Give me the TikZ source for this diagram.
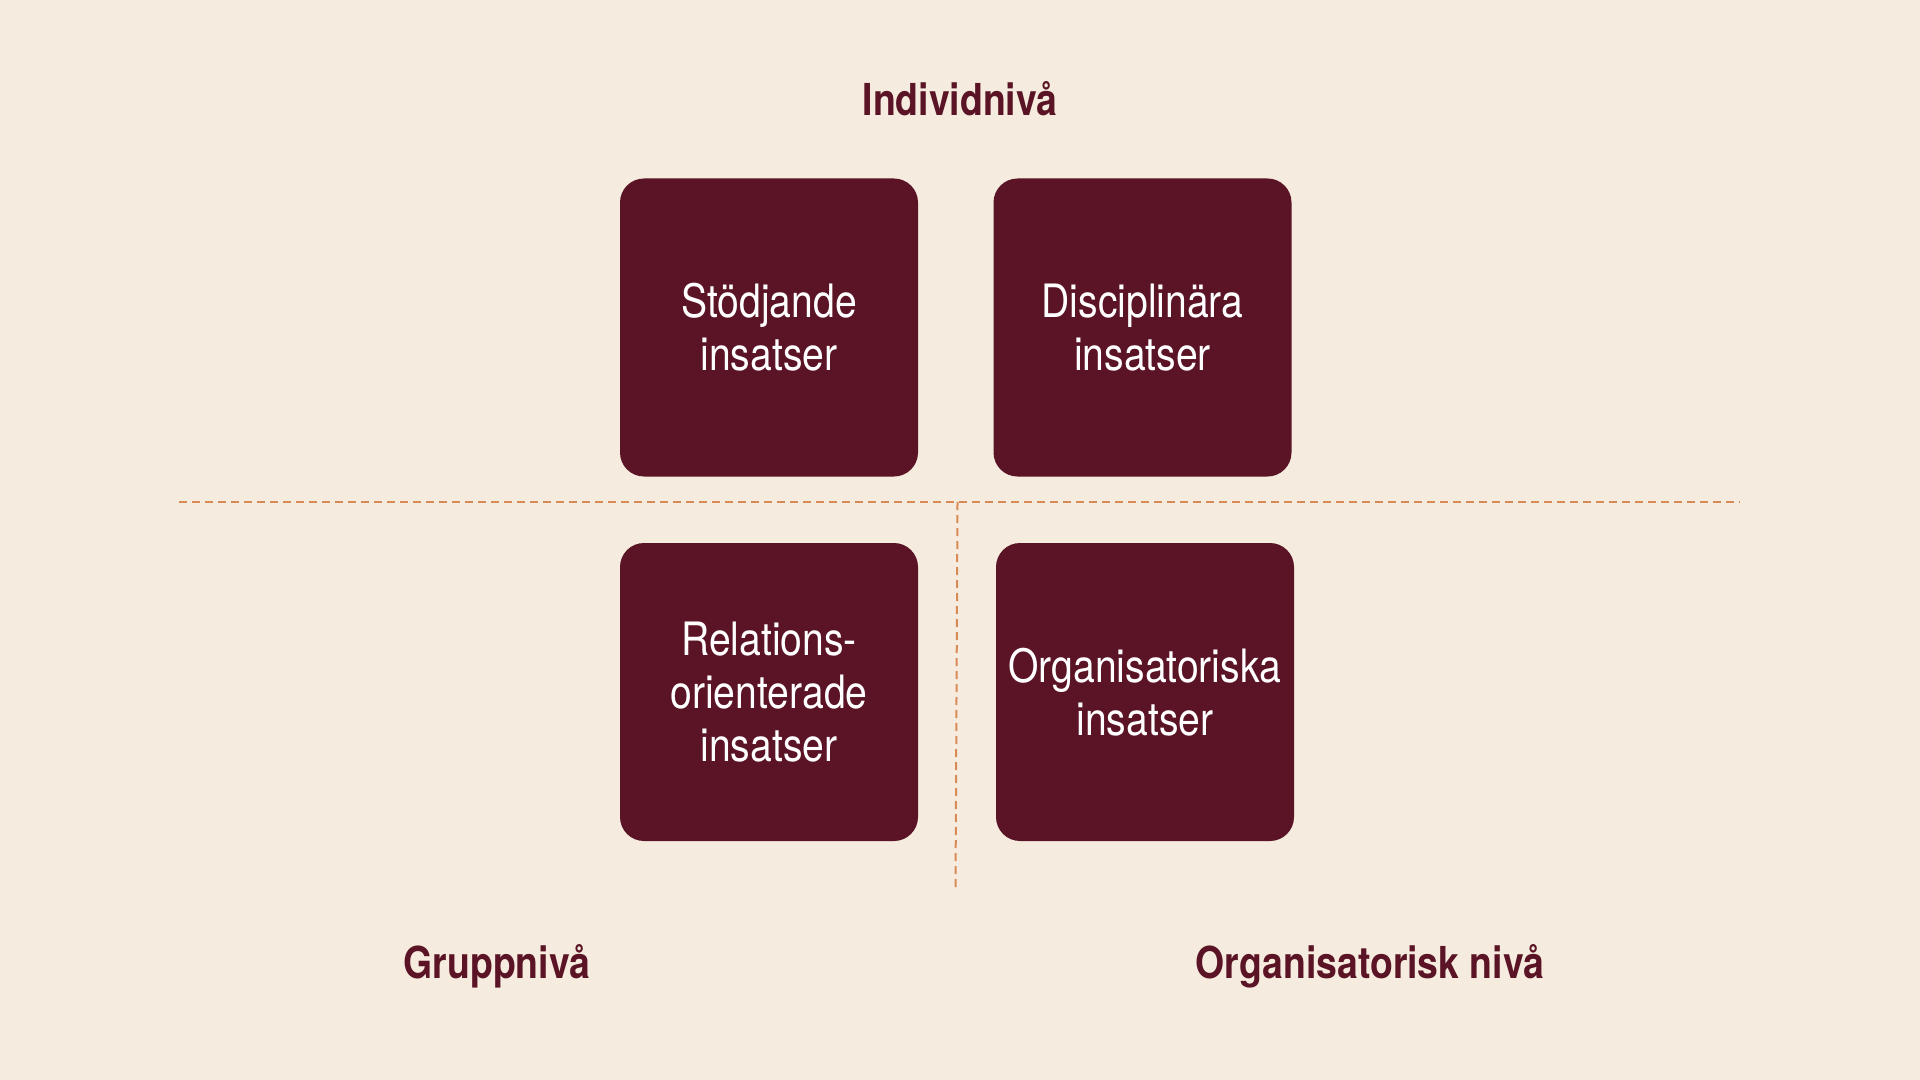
\documentclass[tikz,border=0pt]{standalone}
\usepackage{fontspec}
\setmainfont{TeX Gyre Heros}[FakeStretch=0.85]
\usetikzlibrary{positioning}
\definecolor{cream}{HTML}{F5ECDF}
\definecolor{wine}{HTML}{5A1425}
\definecolor{ochre}{HTML}{D98B55}

\begin{document}
\begin{tikzpicture}[x=0.5pt,y=-0.5pt,node distance=186.75pt,on grid,
  box/.style={fill=wine,text=white,rounded corners=12pt,minimum width=149pt,minimum height=149pt,
    align=center,inner sep=0pt,font=\fontsize{23}{26.5}\selectfont},
  level/.style={text=wine,anchor=base,font=\fontsize{22}{26}\selectfont\bfseries},
  divider/.style={ochre,line width=1pt,dash pattern=on 4pt off 2.5pt}]
  \fill[cream] (0,0) rectangle (1920,1080);
  \useasboundingbox (0,0) rectangle (1920,1080);

  \node[box] (stod) at (769,327.5) {Stödjande\\insatser};
  \node[box] (disc) [right=of stod] {Disciplinära\\insatser};
  \node[box] (rel) [below=182.25pt of stod] {Relations-\\orienterade\\insatser};
  \node[box] (org) [right=188pt of rel] {Organisatoriska\\insatser};

  \coordinate (hl) at (179,502);
  \coordinate (hr) at (1740,502);
  \coordinate (vt) at (957.5,502);
  \coordinate (vb) at (955.5,889);
  \draw[divider] (hl) -- (hr);
  \draw[divider] (vt) -- (vb);

  \node[level] (indiv) at (960,116) {Individnivå};
  \node[level] (grupp) at (497,978) {Gruppnivå};
  \node[level] (orgniva) at (1370,978) {Organisatorisk nivå};
\end{tikzpicture}
\end{document}
